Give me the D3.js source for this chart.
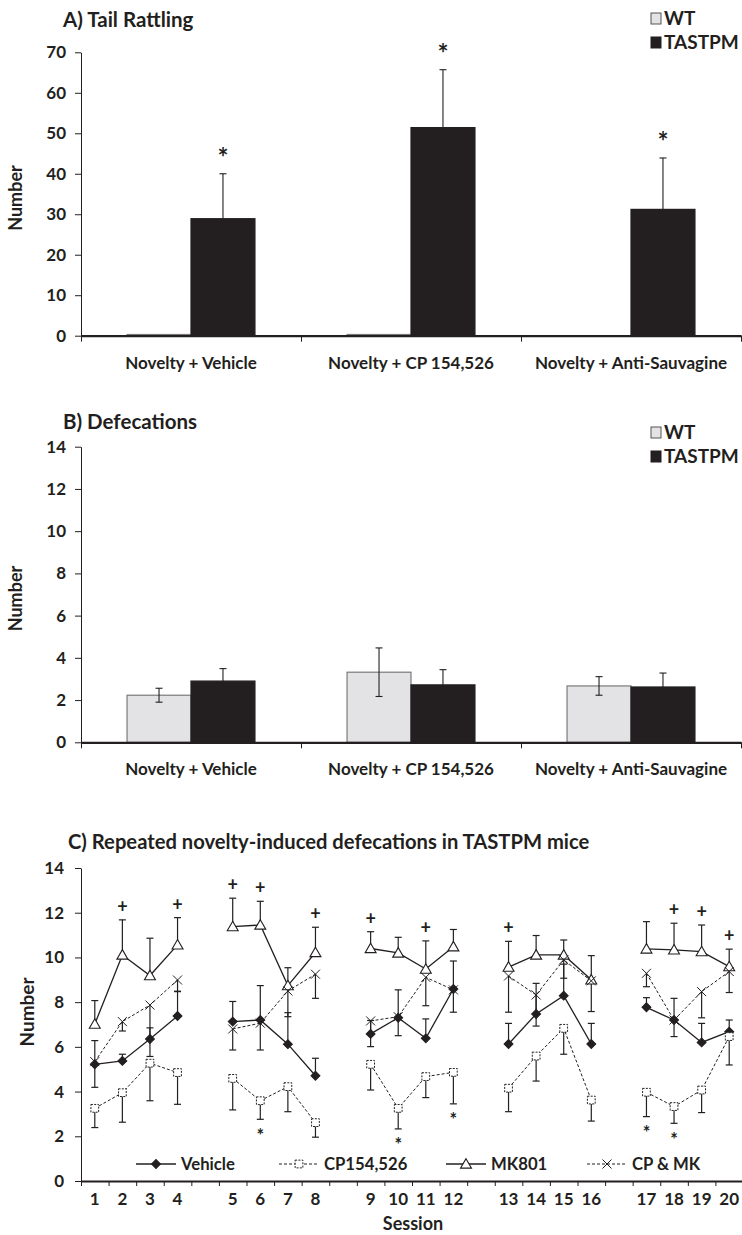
<!DOCTYPE html>
<html>
<head>
<meta charset="utf-8">
<script src="https://cdn.jsdelivr.net/npm/d3@7"></script>
<style>
  body { margin: 0; background: #fff; }
  svg { display: block; font-family: Lato, "Open Sans", sans-serif; font-weight: bold; }
</style>
</head>
<body>
<svg id="chart" width="742" height="1235"></svg>
<script>
// ---- panels A and B ----
const treatments = ["Novelty + Vehicle", "Novelty + CP 154,526", "Novelty + Anti-Sauvagine"];
const genotypes = ["WT", "TASTPM"];

const tailWT = [0.3, 0.3, 0];
const tailTASTPM = [28.9, 51.4, 31.2];
const tailTASTPMErr = [11.1, 14.3, 12.7];
const tailTicks = [0, 10, 20, 30, 40, 50, 60, 70];

const defWT = [2.23, 3.32, 2.67];
const defWTErr = [0.33, 1.15, 0.44];
const defTASTPM = [2.9, 2.72, 2.62];
const defTASTPMErr = [0.59, 0.72, 0.66];
const defTicks = [0, 2, 4, 6, 8, 10, 12, 14];

// ---- panel C ----
const sessions = d3.range(1, 21);
const seriesNames = ["Vehicle", "CP154,526", "MK801", "CP & MK"];
const vehicle    = [5.22, 5.37, 6.35, 7.38, 7.13, 7.2, 6.12, 4.71, 6.58, 7.3, 6.38, 8.59, 6.13, 7.47, 8.29, 6.13, 7.77, 7.2, 6.2, 6.68];
const vehicleErr = [1.06, 0.3, 0.5, 1.09, 0.9, 1.54, 1.41, 0.78, 0.6, 1.25, 0.87, 1.25, 0.92, 1.37, 1.41, 0.92, 0.43, 0.97, 0.85, 0.52];
const cp154      = [3.25, 3.95, 5.27, 4.85, 4.59, 3.59, 4.22, 2.61, 5.22, 3.25, 4.67, 4.86, 4.15, 5.59, 6.83, 3.62, 3.97, 3.33, 4.07, 6.46];
const cp154Err   = [0.86, 1.32, 1.68, 1.42, 1.41, 0.83, 1.12, 0.65, 1.15, 0.92, 0.94, 1.41, 1.05, 1.12, 1.16, 0.94, 1.09, 0.75, 1.01, 1.27];
const mk801      = [7.02, 10.11, 9.19, 10.56, 11.38, 11.45, 8.74, 10.22, 10.4, 10.2, 9.48, 10.48, 9.57, 10.11, 10.11, 9.0, 10.38, 10.34, 10.26, 9.59];
const mk801Err   = [1.05, 1.57, 1.67, 1.22, 1.27, 1.06, 0.8, 1.13, 0.75, 0.7, 1.26, 0.77, 1.15, 0.87, 0.67, 1.08, 1.22, 1.19, 1.19, 0.78];
const cpmk       = [5.34, 7.13, 7.87, 8.99, 6.8, 7.06, 8.5, 9.25, 7.16, 7.35, 9.11, 8.55, 9.17, 8.32, 9.89, 8.95, 9.29, 7.2, 8.47, 9.37];
const cpmkErr    = [1.15, 0.42, 2.3, 0.5, 0.94, 1.2, 1.15, 1.08, 1.15, 0.85, 1.27, 1.0, 1.62, 1.39, 0.82, 1.37, 0.6, 0.74, 1.17, 0.94];
const plusSessions = [2, 4, 5, 6, 8, 9, 11, 13, 18, 19, 20];   // "+" over MK801
const starSessions = [6, 10, 12, 17, 18];                      // "*" under CP154,526
const repTicks = [0, 2, 4, 6, 8, 10, 12, 14];

const ink = "#231f20", wtFill = "#e3e3e5", wtStroke = "#7a7a7a";
const svg = d3.select("#chart");

function styleAxis(g, size) {
  g.attr("font-family", "Lato, 'Open Sans', sans-serif").attr("font-size", size)
   .attr("font-weight", "bold").style("color", ink);
}

// bar panel (A and B share the layout)
function barPanel(o) {
  const y = d3.scaleLinear().domain([0, o.max]).range([o.bottom, o.top]);
  const x0 = d3.scaleBand().domain(treatments).range([81, 741]);
  const x1 = d3.scaleBand().domain(genotypes).range([0, x0.bandwidth()]).paddingOuter(0.72);
  const g = svg.append("g");

  g.append("text").attr("x", 63).attr("y", o.titleY).attr("font-size", 20.5).attr("fill", ink).text(o.title);

  const yAxis = g.append("g").attr("transform", "translate(81,0)")
    .call(d3.axisLeft(y).tickValues(o.ticks).tickSize(6).tickSizeOuter(0).tickPadding(9));
  styleAxis(yAxis, 17);
  yAxis.select(".domain").attr("stroke-width", 1);

  g.append("text").attr("transform", `translate(22,${(o.top + o.bottom) / 2 + 4}) rotate(-90)`)
    .attr("text-anchor", "middle").attr("font-size", 18).attr("fill", ink).text("Number");

  const rows = treatments.map((t, i) => ({ t, i }));
  const bars = [
    { key: "WT", vals: o.wt, err: o.wtErr, fill: wtFill, stroke: wtStroke },
    { key: "TASTPM", vals: o.tg, err: o.tgErr, fill: ink, stroke: ink }
  ];
  bars.forEach(b => {
    g.selectAll(null).data(rows.filter(r => b.vals[r.i] > 0)).join("rect")
      .attr("x", r => x0(r.t) + x1(b.key))
      .attr("y", r => y(b.vals[r.i]))
      .attr("width", x1.bandwidth())
      .attr("height", r => y(0) - y(b.vals[r.i]))
      .attr("fill", b.fill).attr("stroke", b.stroke).attr("stroke-width", 1.2);
  });
  bars.forEach(b => {
    if (!b.err) return;
    rows.forEach(r => {
      const cx = x0(r.t) + x1(b.key) + x1.bandwidth() / 2;
      const v = b.vals[r.i], e = b.err[r.i];
      const lo = o.errBoth ? v - e : v;
      g.append("line").attr("x1", cx).attr("x2", cx).attr("y1", y(lo)).attr("y2", y(v + e))
        .attr("stroke", ink).attr("stroke-width", 1.1);
      const ends = o.errBoth ? [v - e, v + e] : [v + e];
      ends.forEach(ev => g.append("line").attr("x1", cx - 3.5).attr("x2", cx + 3.5)
        .attr("y1", y(ev)).attr("y2", y(ev)).attr("stroke", ink).attr("stroke-width", 1.1));
      if (o.stars && o.stars[r.i]) {
        g.append("text").attr("x", cx).attr("y", y(v + e) - 21 + 14).attr("text-anchor", "middle")
          .attr("font-size", 26).attr("fill", ink).text(o.stars[r.i]);
      }
    });
  });

  // x axis: thick baseline with boundary ticks, labels centred in the bands
  const edge = d3.scaleLinear().domain([0, treatments.length]).range([81, 741]);
  const xTicks = g.append("g").attr("transform", `translate(0,${o.bottom})`)
    .call(d3.axisBottom(edge).tickValues(d3.range(treatments.length + 1)).tickFormat("").tickSize(6).tickSizeOuter(0));
  xTicks.select(".domain").attr("stroke-width", 2.2);
  xTicks.style("color", ink);
  const xLab = g.append("g").attr("transform", `translate(0,${o.bottom})`)
    .call(d3.axisBottom(x0).tickSize(0).tickPadding(21));
  styleAxis(xLab, 17);
  xLab.select(".domain").remove();

  // legend
  genotypes.forEach((k, i) => {
    const cy = o.legendY + i * 24;
    g.append("rect").attr("x", 651).attr("y", cy - 5).attr("width", 10).attr("height", 11)
      .attr("fill", i ? ink : wtFill).attr("stroke", i ? ink : "#555").attr("stroke-width", 1);
    g.append("text").attr("x", 664).attr("y", cy + 7).attr("font-size", 19).attr("fill", ink).text(k);
  });
}

barPanel({ title: "A) Tail Rattling", titleY: 27, max: 70, top: 52.3, bottom: 335.7, ticks: tailTicks,
  wt: tailWT, wtErr: null, tg: tailTASTPM, tgErr: tailTASTPMErr, errBoth: false, stars: ["*", "*", "*"], legendY: 18 });
barPanel({ title: "B) Defecations", titleY: 429, max: 14, top: 446.7, bottom: 742.3, ticks: defTicks,
  wt: defWT, wtErr: defWTErr, tg: defTASTPM, tgErr: defTASTPMErr, errBoth: true, stars: null, legendY: 432 });

// ---- panel C: repeated sessions ----
const slotOf = s => s - 1 + Math.floor((s - 1) / 4);
const xC = d3.scaleBand().domain(d3.range(24)).range([81, 743]);
const sx = s => xC(slotOf(s)) + xC.bandwidth() / 2;
const yC = d3.scaleLinear().domain([0, 14]).range([1181, 868]);
const gC = svg.append("g");

gC.append("text").attr("x", 68).attr("y", 849).attr("font-size", 20.2).attr("fill", ink)
  .text("C) Repeated novelty-induced defecations in TASTPM mice");

const yAxC = gC.append("g").attr("transform", "translate(81,0)")
  .call(d3.axisLeft(yC).tickValues(repTicks).tickSize(6).tickSizeOuter(0).tickPadding(11));
styleAxis(yAxC, 17);
gC.append("text").attr("transform", `translate(34,1012) rotate(-90)`).attr("text-anchor", "middle")
  .attr("font-size", 19).attr("fill", ink).text("Number");

const series = [
  { name: seriesNames[0], vals: vehicle, err: vehicleErr, dir: 1, dash: null, marker: "diamond" },
  { name: seriesNames[1], vals: cp154, err: cp154Err, dir: -1, dash: "3,2", marker: "square" },
  { name: seriesNames[2], vals: mk801, err: mk801Err, dir: 1, dash: null, marker: "triangle" },
  { name: seriesNames[3], vals: cpmk, err: cpmkErr, dir: -1, dash: "3,2", marker: "x" }
];
const groups = d3.range(5).map(k => sessions.slice(k * 4, k * 4 + 4));

function drawMarker(sel, type, x, y) {
  if (type === "diamond") {
    sel.append("path").attr("d", d3.symbol(d3.symbolSquare, 40)())
      .attr("transform", `translate(${x},${y}) rotate(45)`).attr("fill", ink).attr("stroke", ink).attr("stroke-width", 1);
  } else if (type === "square") {
    sel.append("path").attr("d", d3.symbol(d3.symbolSquare, 60)())
      .attr("transform", `translate(${x},${y})`).attr("fill", "#fff").attr("stroke", ink)
      .attr("stroke-width", 1).attr("stroke-dasharray", "2,1.3");
  } else if (type === "triangle") {
    sel.append("path").attr("d", d3.symbol(d3.symbolTriangle, 52)())
      .attr("transform", `translate(${x},${y + 1})`).attr("fill", "#fff").attr("stroke", ink).attr("stroke-width", 1.1);
  } else {
    sel.append("path").attr("d", "M-4.5,-4.5L4.5,4.5M-4.5,4.5L4.5,-4.5")
      .attr("transform", `translate(${x},${y})`).attr("fill", "none").attr("stroke", ink).attr("stroke-width", 1);
  }
}

const line = d3.line().x(d => sx(d.s)).y(d => yC(d.v));
series.forEach(sr => {
  groups.forEach(gr => {
    gC.append("path").datum(gr.map(s => ({ s, v: sr.vals[s - 1] })))
      .attr("d", line).attr("fill", "none").attr("stroke", ink)
      .attr("stroke-width", sr.dash ? 1 : 1.3).attr("stroke-dasharray", sr.dash);
  });
});
series.forEach(sr => {
  sessions.forEach(s => {
    const v = sr.vals[s - 1], end = v + sr.dir * sr.err[s - 1], cx = sx(s);
    gC.append("line").attr("x1", cx).attr("x2", cx).attr("y1", yC(v)).attr("y2", yC(end))
      .attr("stroke", ink).attr("stroke-width", 1.2);
    gC.append("line").attr("x1", cx - 3.5).attr("x2", cx + 3.5).attr("y1", yC(end)).attr("y2", yC(end))
      .attr("stroke", ink).attr("stroke-width", 1.2);
  });
});
series.forEach(sr => sessions.forEach(s => drawMarker(gC, sr.marker, sx(s), yC(sr.vals[s - 1]))));

plusSessions.forEach(s => {
  gC.append("text").attr("x", sx(s)).attr("y", yC(mk801[s - 1] + mk801Err[s - 1]) - 13 + 6)
    .attr("text-anchor", "middle").attr("font-size", 18).attr("fill", ink).text("+");
});
starSessions.forEach(s => {
  gC.append("text").attr("x", sx(s)).attr("y", yC(cp154[s - 1] - cp154Err[s - 1]) + 13 + 9.5)
    .attr("text-anchor", "middle").attr("font-size", 18).attr("fill", ink).text("*");
});

// x axis: boundary ticks + session labels
const edgeC = d3.scaleLinear().domain([0, 24]).range([81, 743]);
const xTC = gC.append("g").attr("transform", "translate(0,1181)")
  .call(d3.axisBottom(edgeC).tickValues(d3.range(24)).tickFormat("").tickSize(5).tickSizeOuter(0));
xTC.select(".domain").attr("stroke-width", 2.2);
xTC.style("color", ink);
const xLC = gC.append("g").attr("transform", "translate(0,1181)")
  .call(d3.axisBottom(xC).tickValues(sessions.map(slotOf)).tickFormat(k => sessions.find(s => slotOf(s) === k))
    .tickSize(0).tickPadding(12));
styleAxis(xLC, 17);
xLC.select(".domain").remove();
gC.append("text").attr("x", 413).attr("y", 1230).attr("text-anchor", "middle")
  .attr("font-size", 18).attr("fill", ink).text("Session");

// legend
const legX = [136, 279, 446, 587];
series.forEach((sr, i) => {
  const x = legX[i], yL = 1164;
  gC.append("line").attr("x1", x).attr("x2", x + 40).attr("y1", yL).attr("y2", yL)
    .attr("stroke", ink).attr("stroke-width", sr.dash ? 1 : 1.3).attr("stroke-dasharray", sr.dash);
  drawMarker(gC, sr.marker, x + 20, yL);
  gC.append("text").attr("x", x + 45).attr("y", yL + 6).attr("font-size", 16.7).attr("fill", ink).text(sr.name);
});
</script>
</body>
</html>
